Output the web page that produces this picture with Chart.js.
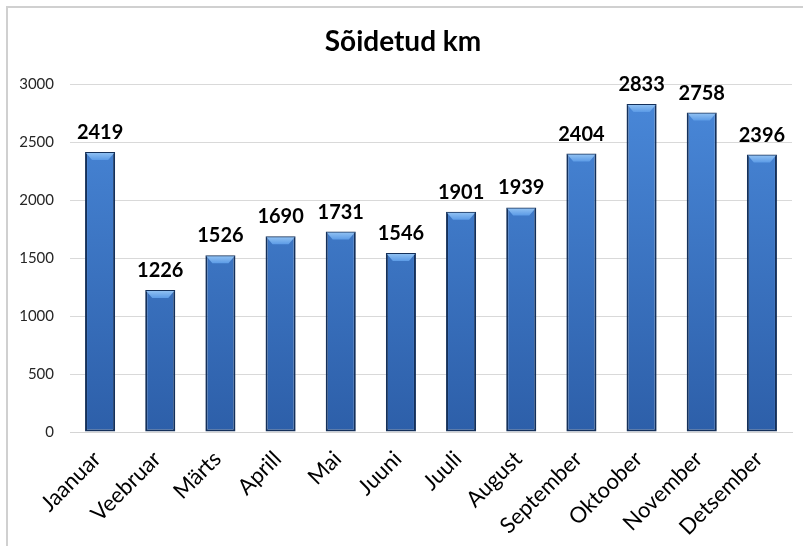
<!DOCTYPE html>
<html>
<head>
<meta charset="utf-8">
<script src="https://cdn.jsdelivr.net/npm/chart.js@4"></script>
<style>
  html, body { margin: 0; padding: 0; background: #fff; }
  #wrap { position: relative; width: 803px; height: 546px; overflow: hidden; }
  #frame { position: absolute; left: 6px; top: 6px; width: 900px; height: 700px; border: 2px solid #d0d0d0; box-sizing: border-box; }
  canvas { position: absolute; left: 0; top: 0; }
</style>
</head>
<body>
<div id="wrap">
  <div id="frame"></div>
  <canvas id="c" width="803" height="546"></canvas>
</div>
<script>
const chartTitle = 'Sõidetud km';
const months = ['Jaanuar','Veebruar','Märts','Aprill','Mai','Juuni','Juuli','August','September','Oktoober','November','Detsember'];
const kilometres = [2419, 1226, 1526, 1690, 1731, 1546, 1901, 1939, 2404, 2833, 2758, 2396];
const yTicks = [0, 500, 1000, 1500, 2000, 2500, 3000];

const FONT = 'Lato, "Open Sans", sans-serif';

const barLabels = {
  id: 'barLabels',
  afterDatasetsDraw(chart) {
    const ctx = chart.ctx;
    const meta = chart.getDatasetMeta(0);
    const ds = chart.data.datasets[0].data;
    ctx.save();
    meta.data.forEach((bar, i) => {
      // top bevel highlight
      const w = bar.width;
      const left = bar.x - w / 2 + 1;
      const right = bar.x + w / 2 - 1;
      const top = bar.y + 1;
      const g = ctx.createLinearGradient(0, top, 0, top + 7);
      g.addColorStop(0, '#8fc0f2');
      g.addColorStop(1, '#5c9be6');
      ctx.fillStyle = g;
      ctx.beginPath();
      ctx.moveTo(left, top);
      ctx.lineTo(right, top);
      ctx.lineTo(right - 6, top + 7);
      ctx.lineTo(left + 6, top + 7);
      ctx.closePath();
      ctx.fill();
      // value label
      ctx.fillStyle = '#000';
      ctx.font = 'bold 20px ' + FONT;
      ctx.textAlign = 'center';
      ctx.textBaseline = 'alphabetic';
      ctx.fillText(String(ds[i]), bar.x, bar.y - 13);
    });
    ctx.restore();
  }
};

new Chart(document.getElementById('c'), {
  type: 'bar',
  data: {
    labels: months,
    datasets: [{
      data: kilometres,
      backgroundColor(context) {
        const chart = context.chart;
        const area = chart.chartArea;
        if (!area) return '#3b78c8';
        const g = chart.ctx.createLinearGradient(0, area.top, 0, area.bottom);
        g.addColorStop(0, '#4a89da');
        g.addColorStop(1, '#2d5fa9');
        return g;
      },
      borderColor: '#14305a',
      borderWidth: 2,
      borderSkipped: false,
      barPercentage: 0.5,
      categoryPercentage: 1.0
    }]
  },
  options: {
    responsive: false,
    animation: false,
    layout: { padding: { left: 14, right: 11, top: 0, bottom: 0 } },
    plugins: {
      legend: { display: false },
      tooltip: { enabled: false },
      title: {
        display: true,
        text: chartTitle,
        color: '#000',
        font: { family: FONT, size: 28, weight: 'bold' },
        padding: { top: 25, bottom: 26 }
      }
    },
    scales: {
      x: {
        grid: { display: false, drawTicks: false },
        border: { display: true, color: '#d4d4d4', width: 1 },
        ticks: {
          color: '#000',
          font: { family: FONT, size: 22 },
          maxRotation: 45,
          minRotation: 45,
          autoSkip: false,
          padding: 14,
          labelOffset: -3
        },
        afterFit(scale) { scale.height = 114; }
      },
      y: {
        min: 0,
        max: 3000,
        afterBuildTicks(scale) { scale.ticks = yTicks.map(v => ({ value: v })); },
        grid: { color: '#d9d9d9', lineWidth: 1, drawTicks: false },
        border: { display: false },
        ticks: {
          color: '#262626',
          font: { family: FONT, size: 15 },
          padding: 16,
          callback: (v) => String(v)
        },
        afterFit(scale) { scale.width = 56; }
      }
    }
  },
  plugins: [barLabels]
});
</script>
</body>
</html>
